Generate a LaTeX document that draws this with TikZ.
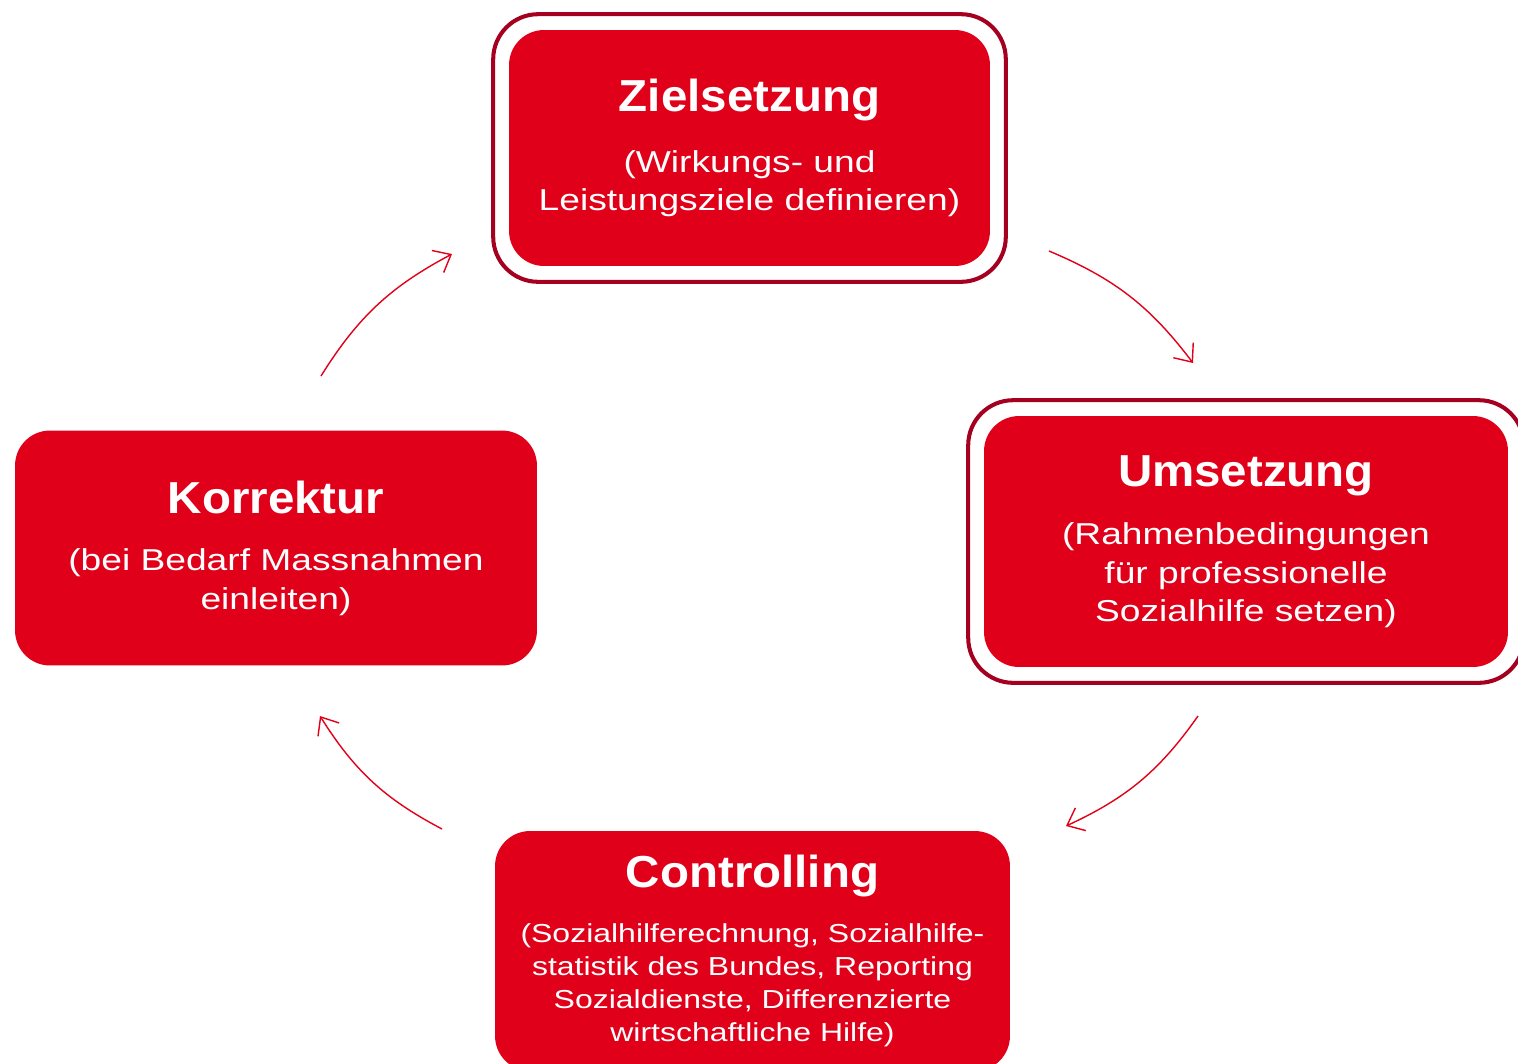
\documentclass[tikz,border=0pt]{standalone}
\usepackage{fontspec}
\setmainfont{Liberation Sans}[FakeStretch=1.23]
\newfontfamily\titlefamily{Liberation Sans}[FakeStretch=1.06]
\usetikzlibrary{positioning,fit,arrows.meta}

\definecolor{stageRed}{HTML}{E1001A}
\definecolor{frameRed}{HTML}{A50020}

\newcommand{\stagetitle}[1]{{\titlefamily\fontsize{25.5}{30}\selectfont\bfseries #1}}

\begin{document}
\begin{tikzpicture}[x=0.02cm, y=-0.02cm,
                phase/.style={rectangle, draw=none, rounded corners=0.7cm, fill=stageRed, text=white, align=center, inner sep=0pt, font=\fontsize{17.2}{21.8}\selectfont},
                frame/.style={rectangle, draw=frameRed, line width=2.3pt, rounded corners=0.9cm, inner sep=0.31cm},
                cycle/.style={draw=stageRed, line width=0.8pt, bend left=15, -{Straight Barb[length=0.3cm, width=0.5cm, line width=0.8pt]}}
            ]
            \useasboundingbox (0,0) rectangle (1518,1063);

            % the four phases
            \node (Ziel) [phase, minimum width=9.62cm, minimum height=4.72cm] at (749.5,148)
                {\stagetitle{Zielsetzung}\\[13pt](Wirkungs- und\\Leistungsziele definieren)};
            \node (Umsetz) [phase, minimum width=10.48cm, minimum height=5.02cm] at (1246,541.5)
                {\stagetitle{Umsetzung}\\[11.5pt](Rahmenbedingungen\\für professionelle\\Sozialhilfe setzen)};
            \node (Control) [phase, minimum width=10.3cm, minimum height=4.8cm, font=\fontsize{14.8}{18.7}\selectfont] at (752.5,951)
                {\stagetitle{Controlling}\\[12.5pt](Sozialhilferechnung, Sozialhilfe-\\statistik des Bundes, Reporting\\Sozialdienste, Differenzierte\\wirtschaftliche Hilfe)};
            \node (Korrek) [phase, minimum width=10.44cm, minimum height=4.7cm] at (276,548)
                {\stagetitle{Korrektur}\\[11pt](bei Bedarf Massnahmen\\einleiten)};

            % frames
            \node (ZielFrame) [frame, fit=(Ziel)] {};
            \node (UmsetzFrame) [frame, fit=(Umsetz)] {};

            % arrows between the phases
            \coordinate (Arr01a) at (1049,251);
            \coordinate (Arr01b) at (1193,363);
            \coordinate (Arr02a) at (1198,716);
            \coordinate (Arr02b) at (1066,826);
            \coordinate (Arr03a) at (442,829);
            \coordinate (Arr03b) at (320,716);
            \coordinate (Arr04a) at (321,376);
            \coordinate (Arr04b) at (452,254);
            \draw [cycle] (Arr01a) to (Arr01b);
            \draw [cycle] (Arr02a) to (Arr02b);
            \draw [cycle] (Arr03a) to (Arr03b);
            \draw [cycle] (Arr04a) to (Arr04b);
\end{tikzpicture}
\end{document}
